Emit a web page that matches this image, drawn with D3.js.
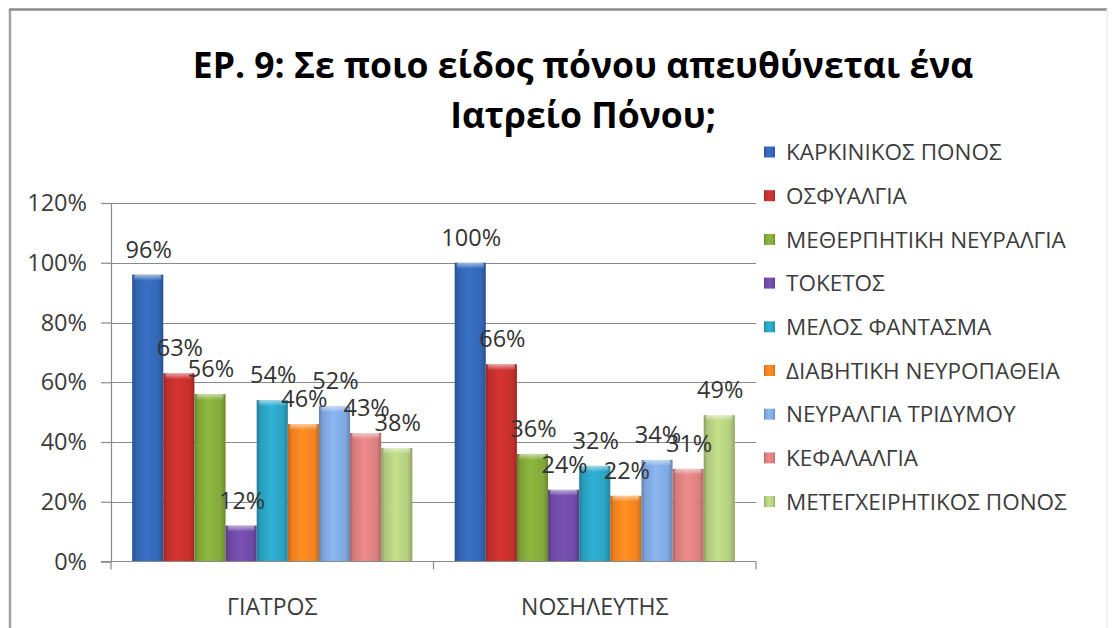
<!DOCTYPE html>
<html>
<head>
<meta charset="utf-8">
<script src="https://cdn.jsdelivr.net/npm/d3@7"></script>
<style>
  html, body { margin: 0; padding: 0; background: #fff; }
  svg { display: block; font-family: "Open Sans", "Noto Sans", sans-serif; }
</style>
</head>
<body>
<div id="chart"></div>
<script>
// Data
const categories = ["ΓΙΑΤΡΟΣ", "ΝΟΣΗΛΕΥΤΗΣ"];
const seriesNames = [
  "ΚΑΡΚΙΝΙΚΟΣ ΠΟΝΟΣ",
  "ΟΣΦΥΑΛΓΙΑ",
  "ΜΕΘΕΡΠΗΤΙΚΗ ΝΕΥΡΑΛΓΙΑ",
  "ΤΟΚΕΤΟΣ",
  "ΜΕΛΟΣ ΦΑΝΤΑΣΜΑ",
  "ΔΙΑΒΗΤΙΚΗ ΝΕΥΡΟΠΑΘΕΙΑ",
  "ΝΕΥΡΑΛΓΙΑ ΤΡΙΔΥΜΟΥ",
  "ΚΕΦΑΛΑΛΓΙΑ",
  "ΜΕΤΕΓΧΕΙΡΗΤΙΚΟΣ ΠΟΝΟΣ"
];
const giatrosValues = [96, 63, 56, 12, 54, 46, 52, 43, 38];
const nosileutisValues = [100, 66, 36, 24, 32, 22, 34, 31, 49];
const yTicks = [0, 20, 40, 60, 80, 100, 120];
const titleLines = ["ΕΡ. 9: Σε ποιο είδος πόνου απευθύνεται ένα", "Ιατρείο Πόνου;"];
const colors = ["#3366b5", "#c4302d", "#82a83a", "#6f4aa5", "#2ba2c2", "#f4831f", "#7fa7df", "#db7f80", "#b3cd7e"];

const valuesByCategory = [giatrosValues, nosileutisValues];

// Setup
const W = 1115, H = 628;
const plot = { left: 111, right: 756, top: 203, bottom: 561.5 };

const svg = d3.select("#chart").append("svg")
  .attr("width", W)
  .attr("height", H);

const defs = svg.append("defs");
colors.forEach((c, i) => {
  const g = defs.append("linearGradient").attr("id", "grad" + i)
    .attr("x1", "0%").attr("x2", "100%").attr("y1", "0%").attr("y2", "0%");
  const base = d3.color(c);
  [[0, base.darker(0.7)], [0.12, base.darker(0.1)], [0.45, base.brighter(0.25)],
   [0.85, base], [1, base.darker(0.6)]].forEach(([o, col]) => {
    g.append("stop").attr("offset", o).attr("stop-color", col.formatHex());
  });
});
const topGrad = defs.append("linearGradient").attr("id", "topShine")
  .attr("x1", "0%").attr("x2", "0%").attr("y1", "0%").attr("y2", "100%");
topGrad.append("stop").attr("offset", 0).attr("stop-color", "#fff").attr("stop-opacity", 0.55);
topGrad.append("stop").attr("offset", 1).attr("stop-color", "#fff").attr("stop-opacity", 0);

// Frame
svg.append("line").attr("x1", 10).attr("x2", 10).attr("y1", 9).attr("y2", H)
  .attr("stroke", "#a3a3a3").attr("stroke-width", 2.5);
svg.append("line").attr("x1", 9).attr("x2", 1107).attr("y1", 9.5).attr("y2", 9.5)
  .attr("stroke", "#8c8c8c").attr("stroke-width", 2.5);
svg.append("line").attr("x1", 1107).attr("x2", 1107).attr("y1", 9).attr("y2", H)
  .attr("stroke", "#ececec").attr("stroke-width", 1.5);

// Title
svg.append("g").selectAll("text")
  .data(titleLines)
  .join("text")
  .attr("x", 583)
  .attr("y", (d, i) => 78 + i * 50)
  .attr("text-anchor", "middle")
  .attr("font-weight", "bold")
  .attr("font-size", 35.5)
  .attr("fill", "#000")
  .text(d => d);

// Scales
const y = d3.scaleLinear().domain([0, 120]).range([plot.bottom, plot.top]);
const x0 = d3.scaleBand().domain(categories).range([plot.left, plot.right]);
const x1 = d3.scaleBand().domain(seriesNames).range([0, x0.bandwidth()])
  .paddingInner(0).paddingOuter(0.68);

// Gridlines
svg.append("g").selectAll("line")
  .data(yTicks.slice(1))
  .join("line")
  .attr("x1", plot.left).attr("x2", plot.right)
  .attr("y1", d => Math.round(y(d)) + 0.5).attr("y2", d => Math.round(y(d)) + 0.5)
  .attr("stroke", "#8a8a8a").attr("stroke-width", 1.2);

// Y axis
const yAxis = svg.append("g")
  .attr("transform", `translate(${plot.left},0)`)
  .call(d3.axisLeft(y).tickValues(yTicks).tickSize(10).tickPadding(14).tickFormat(d => d + "%"));
yAxis.select(".domain").attr("stroke", "#8a8a8a").attr("stroke-width", 1.2);
yAxis.selectAll(".tick line").attr("stroke", "#8a8a8a").attr("stroke-width", 1.2);
yAxis.selectAll(".tick text")
  .attr("font-family", "Open Sans, Noto Sans, sans-serif")
  .attr("font-size", 23.5).attr("fill", "#3c3c3c");

// Bars
const groups = svg.append("g").selectAll("g")
  .data(categories)
  .join("g")
  .attr("transform", d => `translate(${x0(d)},0)`);

groups.each(function (cat, ci) {
  const g = d3.select(this);
  const vals = valuesByCategory[ci].map((v, si) => ({ name: seriesNames[si], v, si }));

  g.selectAll("rect.bar")
    .data(vals)
    .join("rect")
    .attr("class", "bar")
    .attr("x", d => x1(d.name))
    .attr("y", d => y(d.v))
    .attr("width", x1.bandwidth())
    .attr("height", d => y(0) - y(d.v))
    .attr("fill", d => `url(#grad${d.si})`);

  g.selectAll("rect.shine")
    .data(vals)
    .join("rect")
    .attr("class", "shine")
    .attr("x", d => x1(d.name) + 2)
    .attr("y", d => y(d.v))
    .attr("width", x1.bandwidth() - 4)
    .attr("height", 6)
    .attr("rx", 2)
    .attr("fill", "url(#topShine)");

  g.selectAll("text.lbl")
    .data(vals)
    .join("text")
    .attr("class", "lbl")
    .attr("x", d => x1(d.name) + x1.bandwidth() / 2 + 1)
    .attr("y", d => y(d.v) - 17)
    .attr("text-anchor", "middle")
    .attr("font-size", 23.5)
    .attr("fill", "#333")
    .text(d => d.v + "%");
});

// X axis
svg.append("line")
  .attr("x1", plot.left - 10).attr("x2", plot.right)
  .attr("y1", y(0)).attr("y2", y(0))
  .attr("stroke", "#8a8a8a").attr("stroke-width", 1.2);
svg.append("g").selectAll("line")
  .data([plot.left, x0(categories[1]), plot.right])
  .join("line")
  .attr("x1", d => d).attr("x2", d => d)
  .attr("y1", y(0)).attr("y2", y(0) + 8)
  .attr("stroke", "#8a8a8a").attr("stroke-width", 1.2);
svg.append("g").selectAll("text")
  .data(categories)
  .join("text")
  .attr("x", d => x0(d) + x0.bandwidth() / 2)
  .attr("y", 615)
  .attr("text-anchor", "middle")
  .attr("font-size", 23)
  .attr("fill", "#3c3c3c")
  .text(d => d);

// Legend
const legend = svg.append("g").selectAll("g")
  .data(seriesNames)
  .join("g")
  .attr("transform", (d, i) => `translate(764,${152 + i * 43.7})`);
legend.append("rect")
  .attr("x", 0).attr("y", -5.5)
  .attr("width", 11).attr("height", 11)
  .attr("fill", (d, i) => `url(#grad${i})`);
legend.append("text")
  .attr("x", 22)
  .attr("dy", "0.36em")
  .attr("font-size", 22.5)
  .attr("fill", "#3c3c3c")
  .text(d => d);
</script>
</body>
</html>
